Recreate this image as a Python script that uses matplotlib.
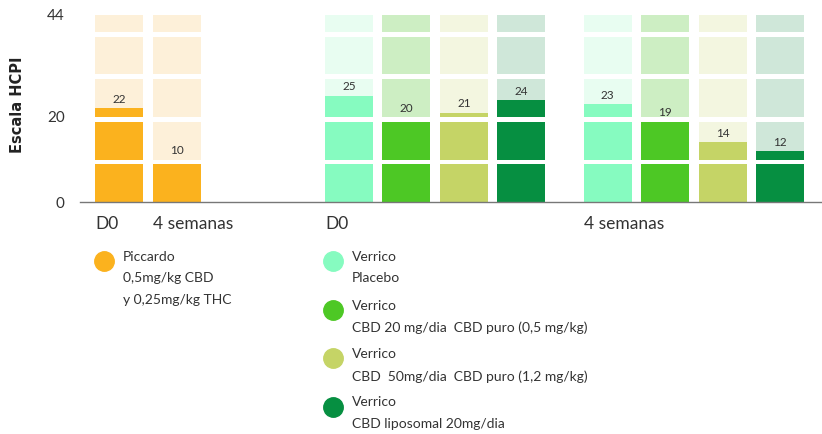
import numpy as np
import matplotlib.pyplot as plt

plt.rcParams['font.family'] = ['Lato', 'DejaVu Sans']

# data
groups = ["Piccardo", "Verrico D0", "Verrico 4 semanas"]
piccardo_vals = [22, 10]
verrico_d0 = [25, 20, 21, 24]
verrico_4sem = [23, 19, 14, 12]
scale_max = 44
y_ticks = [0, 20, 44]
x_labels = ["D0", "4 semanas", "D0", "4 semanas"]

legend_piccardo = "Piccardo\n0,5mg/kg CBD\ny 0,25mg/kg THC"
legend_verrico = ["Verrico\nPlacebo",
                  "Verrico\nCBD 20 mg/dia  CBD puro (0,5 mg/kg)",
                  "Verrico\nCBD  50mg/dia  CBD puro (1,2 mg/kg)",
                  "Verrico\nCBD liposomal 20mg/dia"]

# colours: (fill, light background)
c_picc = ("#FBB21E", "#FDF0D9")
c_verr = [("#86FBC0", "#E8FDF1"),
          ("#4DC825", "#CDEEC3"),
          ("#C5D466", "#F3F6E0"),
          ("#068F41", "#CFE7D9")]

w = 0.835
pos_picc = np.array([0, 1])
pos_d0 = np.array([4, 5, 6, 7])
pos_4s = pos_d0 + 4.5
block = 10  # bars are split into blocks of 10 points

fig = plt.figure(figsize=(8.22, 4.34), dpi=100)
ax = fig.add_axes([80 / 822, 232 / 434, 742 / 822, 187 / 434])

txt = "#333333"

def draw(pos, vals, cols):
    for p, v, (c, lc) in zip(pos, vals, cols):
        ax.bar(p, scale_max, width=w, color=lc, zorder=1)
        ax.bar(p, v, width=w, color=c, zorder=2)
        ax.annotate(str(v), (p, v), xytext=(0, 2.5), textcoords="offset points",
                    ha="center", va="bottom", fontsize=8.5, color=txt, zorder=4)

draw(pos_picc, piccardo_vals, [c_picc, c_picc])
draw(pos_d0, verrico_d0, c_verr)
draw(pos_4s, verrico_4sem, c_verr)

# white gaps between blocks
for g in range(block, scale_max, block):
    ax.axhspan(g - 1.07, g, color="white", lw=0, zorder=3)

ax.set_xlim(-0.68, 12.23)
ax.set_ylim(0, scale_max)
for s in ["top", "right", "left"]:
    ax.spines[s].set_visible(False)
ax.spines["bottom"].set_color("#777777")
ax.spines["bottom"].set_linewidth(1)

ax.set_yticks(y_ticks)
ax.set_yticklabels([str(t) for t in y_ticks], fontsize=11, color=txt)
ax.tick_params(axis="y", length=0, pad=11)

xt = [pos_picc[0], pos_picc[1], pos_d0[0], pos_4s[0]]
ax.set_xticks([x - w / 2 for x in xt])
ax.set_xticklabels(x_labels, fontsize=12.5, color=txt)
for lbl in ax.get_xticklabels():
    lbl.set_ha("left")
ax.tick_params(axis="x", length=0, pad=10)

fig.text(18 / 822, 1 - 105 / 434, "Escala HCPI", rotation=90, ha="center", va="center",
         fontsize=10.5, fontweight="bold", color="#222222", family="DejaVu Sans")

# legend
def legend_item(x, y, color, label):
    fig.add_artist(plt.Line2D([x / 822], [1 - y / 434], marker="o", markersize=14,
                              color=color, transform=fig.transFigure))
    fig.text((x + 19) / 822, 1 - (y - 10) / 434, label, ha="left", va="top",
             fontsize=10, color=txt, linespacing=1.95)

legend_item(104, 261, c_picc[0], legend_piccardo)
for i, (lab, (c, _)) in enumerate(zip(legend_verrico, c_verr)):
    legend_item(333, 261 + i * 48.5, c, lab)

fig.savefig("out.png", dpi=100)
